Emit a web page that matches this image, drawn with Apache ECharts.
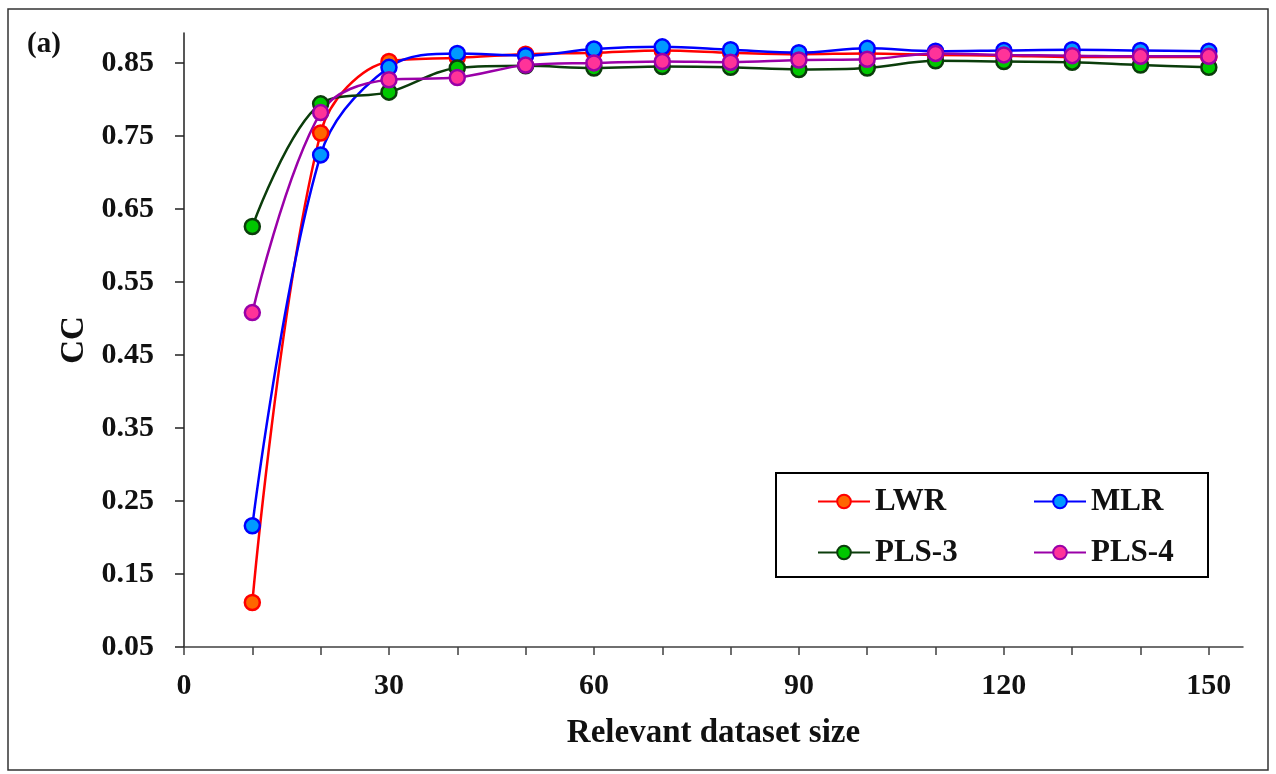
<!DOCTYPE html>
<html>
<head>
<meta charset="utf-8">
<script src="https://cdn.jsdelivr.net/npm/echarts@6/dist/echarts.min.js"></script>
<style>
html,body{margin:0;padding:0;background:#fff;}
#chart{width:1276px;height:774px;}
</style>
</head>
<body>
<div id="chart"></div>
<script>
const xValues = [10, 20, 30, 40, 50, 60, 70, 80, 90, 100, 110, 120, 130, 140, 150];
const lwr  = [0.111, 0.754, 0.852, 0.857, 0.862, 0.864, 0.867, 0.864, 0.862, 0.863, 0.861, 0.860, 0.858, 0.858, 0.858];
const mlr  = [0.216, 0.724, 0.844, 0.863, 0.860, 0.869, 0.872, 0.868, 0.864, 0.870, 0.866, 0.867, 0.868, 0.867, 0.866];
const pls3 = [0.626, 0.794, 0.810, 0.843, 0.846, 0.843, 0.845, 0.844, 0.841, 0.843, 0.853, 0.852, 0.851, 0.847, 0.844];
const pls4 = [0.508, 0.782, 0.827, 0.830, 0.847, 0.850, 0.852, 0.851, 0.854, 0.855, 0.863, 0.861, 0.860, 0.859, 0.859];
const xTicks = [0, 10, 20, 30, 40, 50, 60, 70, 80, 90, 100, 110, 120, 130, 140, 150];
const xTickLabels = [0, 30, 60, 90, 120, 150];
const yTicks = [0.05, 0.15, 0.25, 0.35, 0.45, 0.55, 0.65, 0.75, 0.85];
const seriesNames = ['LWR', 'MLR', 'PLS-3', 'PLS-4'];

const FONT = '"Liberation Serif", "DejaVu Serif", serif';
const pair = (arr) => xValues.map((x, i) => [x, arr[i]]);

function mkSeries(name, data, lineColor, fillColor) {
  return {
    name: name,
    type: 'line',
    data: pair(data),
    smooth: 0.35,
    symbol: 'circle',
    symbolSize: 15,
    lineStyle: { color: lineColor, width: 2.5 },
    itemStyle: { color: fillColor, borderColor: lineColor, borderWidth: 2.5 },
    emphasis: { disabled: true }
  };
}

const legendText = { fontFamily: FONT, fontWeight: 'bold', fontSize: 31, color: '#111', lineHeight: 30 };

const chart = echarts.init(document.getElementById('chart'), null, { renderer: 'canvas' });
const option = {
  backgroundColor: '#ffffff',
  animation: false,
  grid: { left: 184, right: 33, top: 33, bottom: 127, containLabel: false },
  xAxis: {
    type: 'value',
    min: 0,
    max: 155,
    interval: 10,
    name: 'Relevant dataset size',
    nameLocation: 'middle',
    nameGap: 70,
    nameTextStyle: { fontFamily: FONT, fontWeight: 'bold', fontSize: 33, color: '#111' },
    axisLine: { show: true, onZero: false, lineStyle: { color: '#404040', width: 1.5 } },
    axisTick: { show: true, inside: false, length: 8, customValues: xTicks, lineStyle: { color: '#404040', width: 1.5 } },
    axisLabel: { customValues: xTickLabels, margin: 24, fontFamily: FONT, fontWeight: 'bold', fontSize: 30, color: '#111' },
    splitLine: { show: false }
  },
  yAxis: {
    type: 'value',
    min: 0.05,
    max: 0.891,
    interval: 0.1,
    name: 'CC',
    nameLocation: 'middle',
    nameGap: 93,
    nameTextStyle: { fontFamily: FONT, fontWeight: 'bold', fontSize: 33, color: '#111' },
    axisLine: { show: true, onZero: false, lineStyle: { color: '#202020', width: 1.5 } },
    axisTick: { show: true, inside: false, length: 9, customValues: yTicks, lineStyle: { color: '#202020', width: 1.5 } },
    axisLabel: { customValues: yTicks, margin: 30, fontFamily: FONT, fontWeight: 'bold', fontSize: 30, color: '#111',
                 formatter: (v) => v.toFixed(2) },
    splitLine: { show: false }
  },
  legend: [
    {
      data: [seriesNames[0], seriesNames[2]],
      orient: 'vertical',
      left: 817, top: 486,
      padding: 0,
      z: 20,
      itemWidth: 52, itemHeight: 17, itemGap: 20,
      textStyle: legendText,
      selectedMode: false
    },
    {
      data: [seriesNames[1], seriesNames[3]],
      orient: 'vertical',
      left: 1033, top: 486,
      padding: 0,
      z: 20,
      itemWidth: 52, itemHeight: 17, itemGap: 20,
      textStyle: legendText,
      selectedMode: false
    }
  ],
  graphic: [
    { type: 'rect', shape: { x: 8, y: 9, width: 1260, height: 761 }, style: { fill: null, stroke: '#333', lineWidth: 1.5 }, silent: true, z: -1 },
    { type: 'rect', shape: { x: 776, y: 473, width: 432, height: 104 }, style: { fill: '#fff', stroke: '#000', lineWidth: 2 }, silent: true, z: 3 },
    { type: 'text', left: 27, top: 30, style: { text: '(a)', fontFamily: FONT, fontWeight: 'bold', fontSize: 29, fill: '#111' }, z: 5 }
  ],
  series: [
    mkSeries(seriesNames[0], lwr, '#FF0000', '#FF6600'),
    mkSeries(seriesNames[1], mlr, '#0000FF', '#0099FF'),
    mkSeries(seriesNames[2], pls3, '#0B3D0B', '#00C800'),
    mkSeries(seriesNames[3], pls4, '#9A00A8', '#FF3399')
  ]
};
chart.setOption(option);
</script>
</body>
</html>
